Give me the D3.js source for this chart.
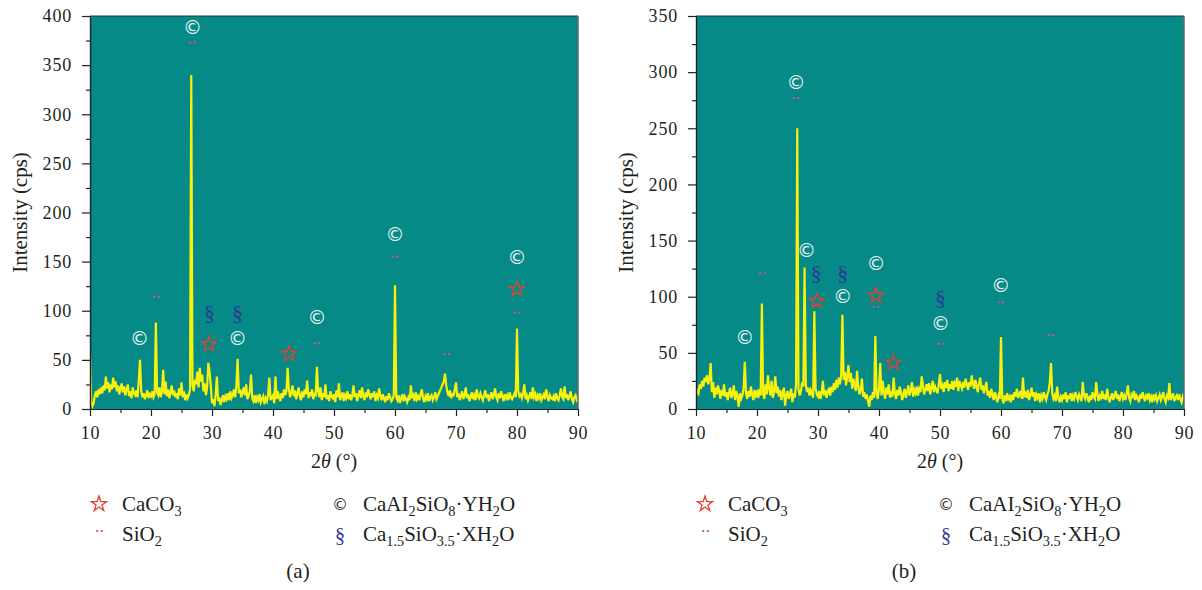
<!DOCTYPE html>
<html><head><meta charset="utf-8">
<script src="https://cdn.jsdelivr.net/npm/d3@7"></script>
<style>
body{margin:0;background:#fff;}
svg{display:block;}
svg text{font-family:"Liberation Serif","Times New Roman",serif;}
svg text.sym{font-family:"DejaVu Sans",sans-serif;}
</style></head><body>
<svg id="chart" width="1202" height="590"></svg>
<script>
// ---------- DATA ----------
const angleStart = 10, angleStep = 0.2;   // 2θ grid: 10° … 90°
const intensityA = [
 55,8,3,6,14,18,12,20,15,22,
 16,24,19,33,21,27,17,25,20,32,
 22,28,18,24,15,21,26,17,23,14,
 20,25,13,18,11,22,16,14,19,12,
 30,50,18,12,16,10,14,19,11,15,
 13,18,12,15,88,17,14,22,12,18,
 40,15,28,13,20,11,17,24,14,19,
 12,16,10,21,14,27,12,18,9,15,
 11,14,20,340,24,18,30,25,38,22,
 42,28,35,18,26,14,22,47,38,24,
 6,10,3,15,33,8,12,4,9,14,
 7,13,10,16,9,18,11,14,20,12,
 24,51,16,20,12,17,22,14,25,10,
 13,18,35,11,8,14,6,12,9,15,
 7,10,13,5,11,8,15,32,9,12,
 14,6,33,10,18,12,8,16,11,20,
 14,18,42,20,12,17,24,13,19,10,
 16,22,13,9,18,12,20,15,29,11,
 17,13,20,10,15,14,43,18,12,22,
 9,16,12,25,10,14,8,18,13,11,
 15,7,19,12,26,9,13,17,8,14,
 11,18,10,15,9,13,24,12,16,8,
 14,19,11,22,13,9,17,12,20,15,
 10,16,12,18,8,14,11,21,13,9,
 15,11,7,13,9,16,12,8,10,14,
 126,12,9,14,6,11,15,8,13,10,
 7,12,9,24,11,14,8,17,10,13,
 9,15,20,11,7,13,10,16,8,12,
 14,9,12,17,10,13,16,19,22,25,
 28,36,24,17,13,19,11,15,14,20,
 27,12,16,9,13,18,10,14,22,11,
 15,8,12,17,10,14,9,20,13,11,
 16,12,9,14,19,11,15,8,13,17,
 10,14,21,12,9,16,11,18,13,8,
 15,11,14,9,17,12,10,13,16,12,
 82,18,13,15,11,16,25,10,14,9,
 13,17,10,22,12,15,8,14,11,16,
 9,12,15,10,20,13,8,14,11,10,
 13,8,16,11,9,14,21,12,10,23,
 11,15,9,13,18,10,7,12,14,9,
 11];
const intensityB = [
 12,16,14,22,18,25,20,28,24,30,
 22,27,41,15,24,10,19,13,21,16,
 9,17,12,22,11,15,8,14,19,10,
 13,21,8,16,11,2,14,9,12,18,
 42,14,9,16,11,20,13,8,17,12,
 15,10,18,12,94,14,9,22,13,30,
 18,12,25,10,16,29,14,20,11,17,
 8,14,19,3,12,16,9,13,18,6,
 14,10,22,250,18,12,16,24,20,126,
 22,15,19,12,17,14,10,87,18,13,
 11,16,9,14,25,12,17,10,15,19,
 12,20,15,23,17,26,19,28,22,30,
 84,26,33,21,29,39,24,32,18,27,
 22,16,34,20,13,17,27,11,15,9,
 13,7,2,12,8,15,10,65,14,9,
 18,41,12,25,15,9,19,13,22,10,
 16,11,28,14,9,17,12,20,15,8,
 13,18,10,15,21,12,16,24,11,17,
 14,20,12,18,15,29,21,13,17,22,
 16,23,13,19,25,15,20,17,14,22,
 31,18,21,15,24,19,26,16,22,18,
 25,17,23,20,28,16,25,21,18,24,
 19,27,22,17,24,20,30,23,18,26,
 20,15,23,28,17,21,14,19,24,12,
 16,10,18,13,8,15,11,6,12,9,
 64,10,5,12,7,14,9,11,6,13,
 8,15,11,18,10,13,16,9,28,12,
 14,10,17,8,12,19,11,15,7,13,
 10,14,6,12,9,15,11,8,13,16,
 24,41,14,9,12,7,20,10,6,11,
 8,13,9,15,6,11,10,14,7,12,
 9,15,11,8,13,10,7,24,12,9,
 14,10,6,12,8,15,11,9,24,13,
 7,12,10,16,9,13,8,18,11,6,
 10,14,8,12,16,9,13,7,11,15,
 9,12,8,14,21,10,7,13,11,16,
 8,12,10,6,13,9,15,11,7,12,
 10,14,8,11,6,13,9,12,7,10,
 13,8,11,15,9,6,12,10,23,8,
 11,14,7,10,12,8,13,9,6,11,
 8];

const xTicks  = [10,20,30,40,50,60,70,80,90];
const yTicksA = [0,50,100,150,200,250,300,350,400];
const yTicksB = [0,50,100,150,200,250,300,350];

// phase markers [2θ, intensity]
const copyA = [[18.1,72],[26.8,389],[34.2,72],[47.2,94],[60,178],[80,155]];
const dotsA = [[20.9,114],[26.8,373],[47.2,67],[60,155],[68.5,56],[80,98]];
const sectA = [[29.6,98],[34.2,98]];
const starA = [[29.5,67],[42.6,57],[80,123]];

const copyB = [[18.0,64],[26.4,291],[28.1,142],[34.05,101],[39.5,130],[50.1,77],[59.95,110]];
const dotsB = [[20.9,121],[26.4,277],[39.5,91],[50.1,58],[59.95,95],[68.2,66]];
const sectB = [[29.7,122],[34.05,122],[50.1,99]];
const starB = [[29.8,97],[39.5,102],[42.35,42]];

const legendLabels = ["CaCO_{3}","SiO_{2}","CaAI_{2}SiO_{8}·YH_{2}O","Ca_{1.5}SiO_{3.5}·XH_{2}O"];
const captions = ["(a)","(b)"];

// ---------- DRAW ----------
const svg = d3.select('#chart');
const TOP = 16, BOTTOM = 409, W = 488;
const C = {bg:'#058a87', line:'#f8f20a', star:'#e8402c', dot:'#d94ea6', sect:'#2c3b93', copy:'#e6f3f1', ink:'#231f20'};

const panels = [
 {left:90,  yMax:400, yTicks:yTicksA, data:intensityA, copy:copyA, dots:dotsA, sect:sectA, star:starA, cap:captions[0]},
 {left:696, yMax:350, yTicks:yTicksB, data:intensityB, copy:copyB, dots:dotsB, sect:sectB, star:starB, cap:captions[1]}
];

const starPath = d3.symbol().type(d3.symbolStar).size(72)();

function addLabel(sel, str, size){
  const re = /_\{([^}]*)\}/g; let last = 0, m;
  const parts = [];
  while((m = re.exec(str))){ if(m.index>last) parts.push([str.slice(last,m.index),false]); parts.push([m[1],true]); last = re.lastIndex; }
  if(last<str.length) parts.push([str.slice(last),false]);
  let shifted = false;
  parts.forEach(([t,s])=>{
    const ts = sel.append('tspan').text(t);
    if(s){ ts.attr('font-size', size*0.68); if(!shifted){ts.attr('dy', 5); shifted = true;} }
    else { ts.attr('font-size', size); if(shifted){ts.attr('dy', -5); shifted = false;} }
  });
}

panels.forEach((p, pi) => {
  const x = d3.scaleLinear().domain([10, 90]).range([p.left, p.left + W]);
  const y = d3.scaleLinear().domain([0, p.yMax]).range([BOTTOM, TOP]);
  const g = svg.append('g');

  g.append('rect').attr('x', p.left).attr('y', TOP).attr('width', W).attr('height', BOTTOM - TOP).attr('fill', C.bg);

  const clipId = 'clip' + pi;
  svg.append('clipPath').attr('id', clipId).append('rect')
     .attr('x', p.left).attr('y', TOP).attr('width', W).attr('height', BOTTOM - TOP);

  const line = d3.line().x((d, i) => x(angleStart + i * angleStep)).y(d => y(d));
  g.append('path').datum(p.data).attr('d', line)
    .attr('fill', 'none').attr('stroke', C.line).attr('stroke-width', 2.2)
    .attr('stroke-linejoin', 'miter').attr('clip-path', `url(#${clipId})`);

  // frame
  g.append('line').attr('x1', p.left).attr('x2', p.left + W).attr('y1', TOP).attr('y2', TOP)
    .attr('stroke', '#333').attr('stroke-width', 1.2);
  g.append('line').attr('x1', p.left + W).attr('x2', p.left + W).attr('y1', TOP).attr('y2', BOTTOM)
    .attr('stroke', '#666').attr('stroke-width', 1.5);

  // axes
  const yMinor = d3.pairs(p.yTicks).map(([a, b]) => (a + b) / 2);
  const xMinor = d3.pairs(xTicks).map(([a, b]) => (a + b) / 2);
  g.append('g').attr('transform', `translate(${p.left},0)`)
    .call(d3.axisLeft(y).tickValues(p.yTicks).tickSize(8).tickSizeOuter(0).tickPadding(10));
  g.append('g').attr('transform', `translate(${p.left},0)`)
    .call(d3.axisLeft(y).tickValues(yMinor).tickSize(4).tickSizeOuter(0).tickFormat(''));
  g.append('g').attr('transform', `translate(0,${BOTTOM})`)
    .call(d3.axisBottom(x).tickValues(xTicks).tickSize(7).tickSizeOuter(0).tickPadding(10));
  g.append('g').attr('transform', `translate(0,${BOTTOM})`)
    .call(d3.axisBottom(x).tickValues(xMinor).tickSize(4).tickSizeOuter(0).tickFormat(''));
  g.selectAll('.domain, .tick line').attr('stroke', '#222').attr('stroke-width', 1.2);
  g.selectAll('.tick text').style('font-family', '"Liberation Serif","Times New Roman",serif')
    .style('font-size', '18px').style('letter-spacing', '0.8px').attr('fill', C.ink);

  // titles
  g.append('text').attr('transform', `translate(${p.left - 63},${(TOP + BOTTOM) / 2}) rotate(-90)`)
    .attr('text-anchor', 'middle').attr('font-size', 21).attr('fill', C.ink).text('Intensity (cps)');
  const xt = g.append('text').attr('x', p.left + W / 2).attr('y', 468).attr('text-anchor', 'middle')
    .attr('font-size', 20).attr('fill', C.ink);
  xt.append('tspan').text('2');
  xt.append('tspan').attr('font-style', 'italic').text('θ');
  xt.append('tspan').text(' (°)');

  // markers
  const mk = g.append('g');
  mk.selectAll('.cp').data(p.copy).join('text').attr('class', 'sym').attr('x', d => x(d[0])).attr('y', d => y(d[1]))
    .attr('text-anchor', 'middle').attr('dominant-baseline', 'central')
    .attr('font-size', 19).attr('fill', C.copy).text('©');
  mk.selectAll('.sc').data(p.sect).join('text').attr('x', d => x(d[0])).attr('y', d => y(d[1]))
    .attr('text-anchor', 'middle').attr('dominant-baseline', 'central')
    .attr('font-size', 22).attr('fill', C.sect).text('§');
  mk.selectAll('.st').data(p.star).join('path').attr('d', starPath)
    .attr('transform', d => `translate(${x(d[0])},${y(d[1]) + 1})`)
    .attr('fill', 'none').attr('stroke', C.star).attr('stroke-width', 1.3);
  p.dots.forEach(d => {
    [-2.3, 2.3].forEach(o => {
      mk.append('rect').attr('x', x(d[0]) + o - 1).attr('y', y(d[1]) - 1).attr('width', 2).attr('height', 2).attr('fill', C.dot);
    });
  });

  // legend
  const lg = g.append('g');
  lg.append('path').attr('d', starPath).attr('transform', `translate(${p.left + 9},${504})`)
    .attr('fill', 'none').attr('stroke', C.star).attr('stroke-width', 1.3);
  [-2.3, 2.3].forEach(o => lg.append('rect').attr('x', p.left + 9.5 + o - 1).attr('y', 530).attr('width', 2).attr('height', 2).attr('fill', C.dot));
  lg.append('text').attr('class', 'sym').attr('x', p.left + 250).attr('y', 504).attr('text-anchor', 'middle').attr('dominant-baseline', 'central')
    .attr('font-size', 16).attr('fill', '#333').text('©');
  lg.append('text').attr('x', p.left + 250).attr('y', 535).attr('text-anchor', 'middle').attr('dominant-baseline', 'central')
    .attr('font-size', 21).attr('fill', '#3b3d9c').text('§');
  const pos = [[p.left + 32, 511], [p.left + 32, 541], [p.left + 273, 511], [p.left + 273, 541]];
  legendLabels.forEach((lab, i) => {
    const t = lg.append('text').attr('x', pos[i][0]).attr('y', pos[i][1]).attr('fill', C.ink);
    addLabel(t, lab, 21);
  });

  g.append('text').attr('x', p.left + 208).attr('y', 578).attr('text-anchor', 'middle')
    .attr('font-size', 21).attr('fill', C.ink).text(p.cap);
});
</script>
</body></html>
